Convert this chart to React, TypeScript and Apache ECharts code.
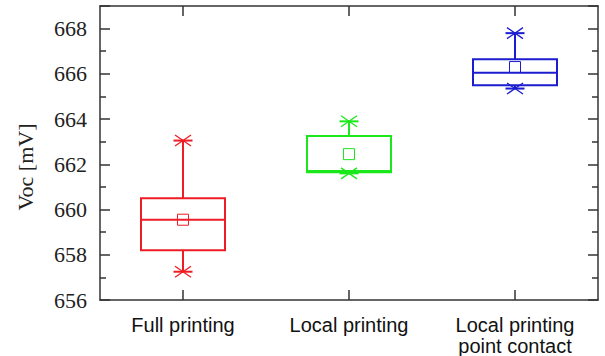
import React, { useEffect, useRef } from "react";
import * as echarts from "echarts";

const categories = ["Full printing", "Local printing", "Local printing\npoint contact"];
const whiskerLow = [657.25, 661.6, 665.35];
const q1 = [658.2, 661.65, 665.5];
const median = [659.55, 661.7, 666.05];
const q3 = [660.5, 663.25, 666.65];
const whiskerHigh = [663.05, 663.9, 667.8];
const mean = [659.55, 662.45, 666.3];
const colors = ["#ee1c24", "#1be81b", "#1c1cd0"];
const yTicks = [656, 658, 660, 662, 664, 666, 668];
const SERIF = "'Liberation Serif', 'Times New Roman', Times, serif";
const SANS = "'Liberation Sans', Arial, Helvetica, sans-serif";

export default function App() {
  const ref = useRef<HTMLDivElement>(null);
  useEffect(() => {
    if (!ref.current) return;
    const chart = echarts.init(ref.current, null, { renderer: "svg" });
    const data = categories.map((_, i) => [i, whiskerLow[i], q1[i], median[i], q3[i], whiskerHigh[i], mean[i]]);
    const axisLine = { show: true, lineStyle: { color: "#333", width: 1.5 } };
    chart.setOption({
      animation: false,
      grid: { left: 100, top: 6, right: 7, bottom: 56 },
      xAxis: [
        {
          type: "category",
          data: categories,
          boundaryGap: true,
          axisLine,
          axisTick: { show: true, inside: true, length: 10, alignWithLabel: true, lineStyle: { color: "#333", width: 1.5 } },
          axisLabel: { fontFamily: SANS, fontSize: 20, color: "#111", margin: 14, lineHeight: 21 },
          splitLine: { show: false },
        },
        {
          type: "category",
          data: categories,
          position: "top",
          boundaryGap: true,
          axisLine,
          axisTick: { show: true, inside: true, length: 10, alignWithLabel: true, lineStyle: { color: "#333", width: 1.5 } },
          axisLabel: { show: false },
          splitLine: { show: false },
        },
      ],
      yAxis: [
        {
          type: "value",
          min: 656,
          max: 669,
          interval: 2,
          axisLine,
          axisTick: { show: true, inside: true, length: 10, lineStyle: { color: "#333", width: 1.5 } },
          minorTick: { show: true, splitNumber: 2, length: 6, lineStyle: { color: "#333", width: 1.5 } },
          axisLabel: {
            fontFamily: SERIF,
            fontSize: 22,
            color: "#222",
            margin: 13,
            formatter: (v: number) => (yTicks.includes(v) ? String(v) : ""),
          },
          splitLine: { show: false },
        },
        {
          type: "value",
          min: 656,
          max: 669,
          interval: 2,
          position: "right",
          axisLine,
          axisTick: { show: true, inside: true, length: 10, lineStyle: { color: "#333", width: 1.5 } },
          minorTick: { show: true, splitNumber: 2, length: 6, lineStyle: { color: "#333", width: 1.5 } },
          axisLabel: { show: false },
          splitLine: { show: false },
        },
      ],
      graphic: [
        {
          type: "text",
          x: 25,
          y: 167,
          rotation: Math.PI / 2,
          style: {
            text: "Voc [mV]",
            fontFamily: SERIF,
            fontSize: 22,
            fill: "#222",
            align: "center",
            verticalAlign: "middle",
          },
        },
      ],
      series: [
        {
          type: "custom",
          clip: false,
          data,
          renderItem: (params: any, api: any) => {
            const i = api.value(0);
            const color = colors[i];
            const band = api.size([1, 0])[0];
            const hw = band * 0.253;
            const pLow = api.coord([i, api.value(1)]);
            const pQ1 = api.coord([i, api.value(2)]);
            const pMed = api.coord([i, api.value(3)]);
            const pQ3 = api.coord([i, api.value(4)]);
            const pHigh = api.coord([i, api.value(5)]);
            const pMean = api.coord([i, api.value(6)]);
            const cx = pMed[0];
            const stroke = { stroke: color, lineWidth: 2, fill: "none" };
            const thin = { stroke: color, lineWidth: 1.3 };
            const star = (p: number[]) => [
              { type: "line", shape: { x1: p[0] - 9.5, y1: p[1], x2: p[0] + 9.5, y2: p[1] }, style: { stroke: color, lineWidth: 2 } },
              { type: "line", shape: { x1: p[0] - 8, y1: p[1] - 5.5, x2: p[0] + 8, y2: p[1] + 5.5 }, style: thin },
              { type: "line", shape: { x1: p[0] - 8, y1: p[1] + 5.5, x2: p[0] + 8, y2: p[1] - 5.5 }, style: thin },
            ];
            return {
              type: "group",
              children: [
                { type: "line", shape: { x1: cx, y1: pQ3[1], x2: cx, y2: pHigh[1] }, style: stroke },
                { type: "line", shape: { x1: cx, y1: pQ1[1], x2: cx, y2: pLow[1] }, style: stroke },
                { type: "rect", shape: { x: cx - hw, y: pQ3[1], width: 2 * hw, height: pQ1[1] - pQ3[1] }, style: stroke },
                { type: "line", shape: { x1: cx - hw, y1: pMed[1], x2: cx + hw, y2: pMed[1] }, style: stroke },
                { type: "rect", shape: { x: cx - 5.5, y: pMean[1] - 5.5, width: 11, height: 11 }, style: { stroke: color, lineWidth: 1, fill: "none" } },
                ...star(pHigh),
                ...star(pLow),
              ],
            };
          },
        },
      ],
    });
    return () => chart.dispose();
  }, []);
  return <div ref={ref} style={{ width: 605, height: 356, position: "absolute", left: 0, top: 0 }} />;
}
